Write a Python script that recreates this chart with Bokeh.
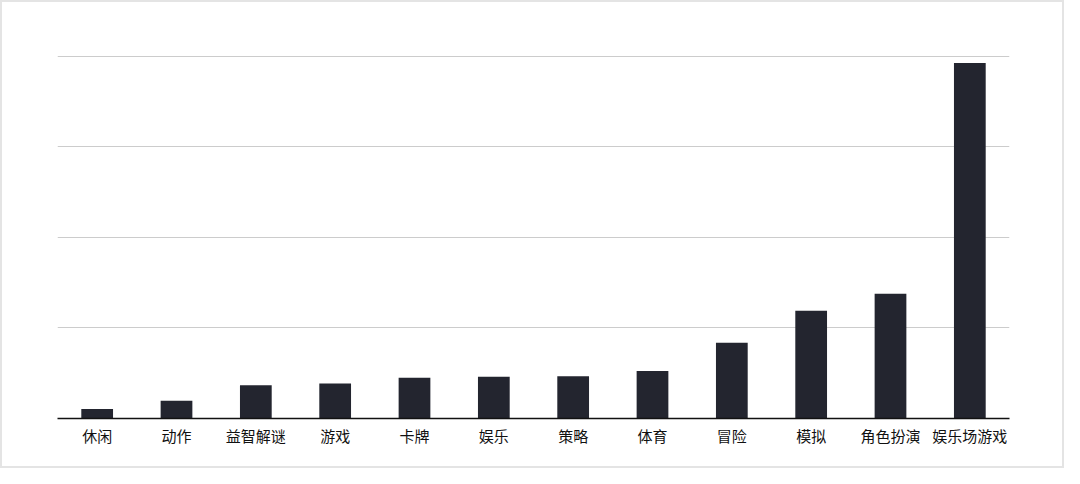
from bokeh.plotting import figure
from bokeh.models import Range1d, FixedTicker, ColumnDataSource
from bokeh.embed import file_html
from bokeh.resources import INLINE

categories = ["休闲", "动作", "益智解谜", "游戏", "卡牌", "娱乐", "策略", "体育", "冒险", "模拟", "角色扮演", "娱乐场游戏"]
values = [1.05, 1.97, 3.67, 3.86, 4.49, 4.6, 4.67, 5.26, 8.37, 11.89, 13.78, 39.26]
grid_ticks = [10, 20, 30, 40]

src = ColumnDataSource(data=dict(cat=categories, val=values))

p = figure(x_range=categories, y_range=Range1d(0, 40.1), width=1064, height=468,
           output_backend="svg", toolbar_location=None,
           min_border_left=55, min_border_right=57, min_border_top=53, min_border_bottom=52)
p.x_range.range_padding = 0

p.vbar(x="cat", top="val", width=0.4, source=src, fill_color="#23252f", line_color=None)

p.outline_line_color = None
p.background_fill_color = "white"
p.border_fill_color = "white"
p.styles = {"border": "2px solid #e4e4e4", "box-sizing": "border-box"}

p.yaxis.visible = False
p.xgrid.grid_line_color = None
p.ygrid.ticker = FixedTicker(ticks=grid_ticks)
p.ygrid.grid_line_color = "#cccccc"
p.ygrid.grid_line_width = 1

p.xaxis.axis_line_color = "#111111"
p.xaxis.axis_line_width = 1.5
p.xaxis.major_tick_line_color = None
p.xaxis.minor_tick_line_color = None
p.xaxis.major_label_text_font = "Noto Sans CJK SC"
p.xaxis.major_label_text_font_size = "15px"
p.xaxis.major_label_text_color = "#111111"
p.xaxis.major_label_standoff = 0

open("out.html", "w").write(file_html(p, INLINE))
